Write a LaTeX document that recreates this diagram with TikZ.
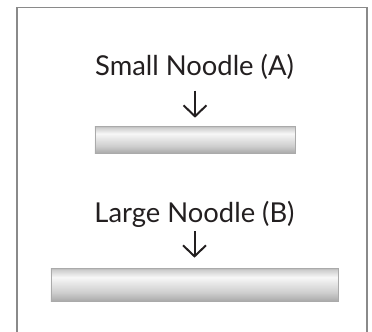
\documentclass[tikz,border=0pt]{standalone}
\usepackage{fontspec}
\setmainfont{Lato}
\usetikzlibrary{arrows.meta}

\definecolor{framegray}{RGB}{138,138,138}
\definecolor{inkgray}{RGB}{35,31,32}
\definecolor{noodledark}{RGB}{170,170,170}
\definecolor{noodlemid}{RGB}{206,206,206}
\definecolor{noodlelight}{RGB}{247,247,247}
\definecolor{noodletop}{RGB}{182,182,182}

\pgfdeclareverticalshading{noodleshade}{100bp}{%
  color(0bp)=(noodledark); color(25bp)=(noodledark);
  color(38bp)=(noodlemid); color(61bp)=(noodlelight);
  color(72bp)=(noodlemid); color(75bp)=(noodletop);
  color(100bp)=(noodletop)}

\tikzset{
  lbl/.style={inner sep=0pt, anchor=base, text=inkgray},
  noodle/.style={shading=noodleshade, draw=noodledark, line width=0.6bp, inner sep=0pt},
  downarrow/.style={inkgray, line width=2bp, -{Straight Barb[length=11bp,width=23bp]}}
}

\begin{document}
\begin{tikzpicture}[x=1bp,y=-1bp,font=\fontsize{27.5}{33}\selectfont]
\useasboundingbox (0,0) rectangle (372,332);

\draw[framegray, line width=1.8bp] (17,332) -- (17,7.5) -- (367,7.5) -- (367,332);

\node[lbl] (nameA) at (194.5,75.5) {Small Noodle (A)};
\node[noodle, minimum width=200bp, minimum height=27bp] (noodleA) at (195,139.5) {};

\node[lbl] (nameB) at (194.5,222) {Large Noodle (B)};
\node[noodle, minimum width=287bp, minimum height=33bp] (noodleB) at (194.5,284.5) {};

\draw[downarrow, shorten <=15bp, shorten >=8bp] (nameA.base -| noodleA.north) -- (noodleA.north);
\draw[downarrow, shorten <=9bp, shorten >=10bp] (nameB.base -| noodleB.north) -- (noodleB.north);

\end{tikzpicture}
\end{document}
